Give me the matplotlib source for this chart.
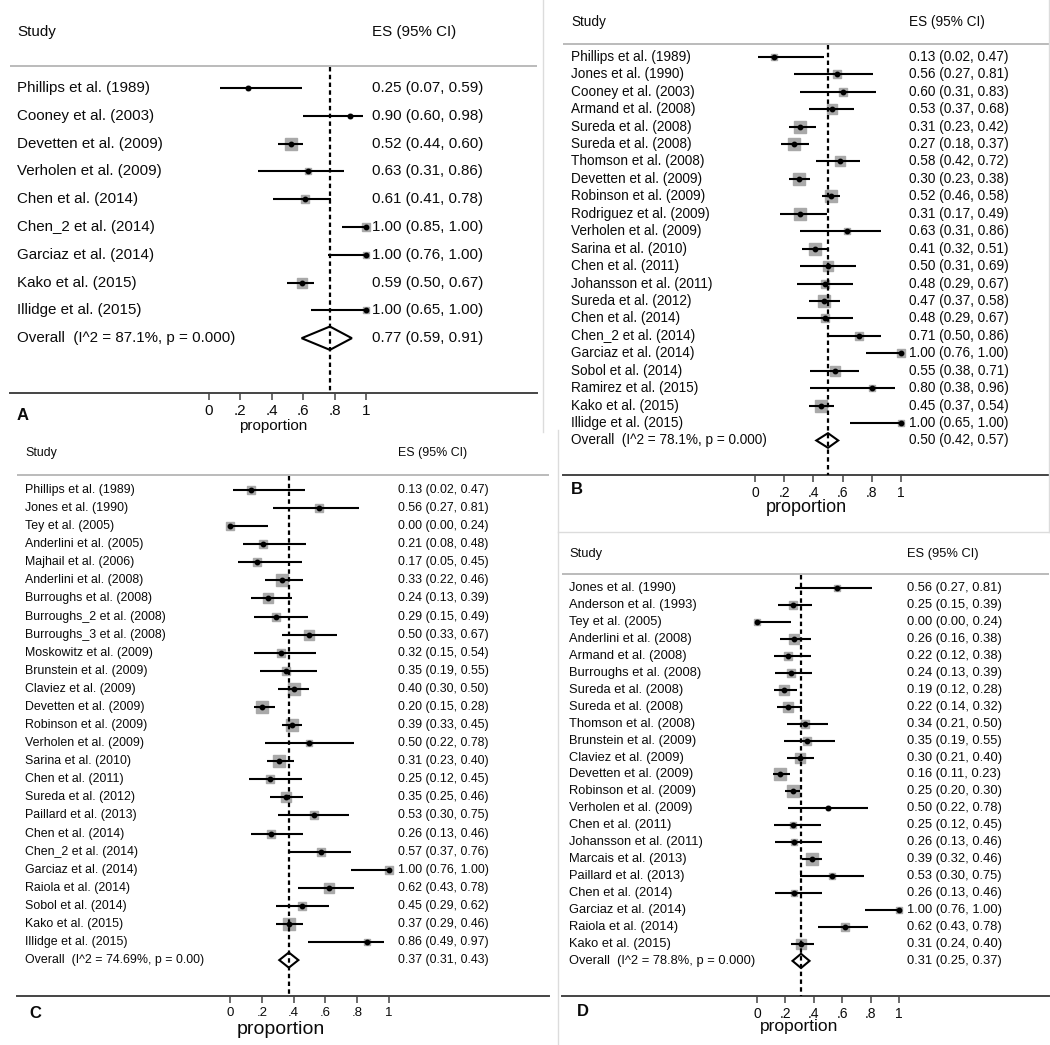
import matplotlib
matplotlib.use("Agg")
import matplotlib.pyplot as plt
from matplotlib.lines import Line2D
from matplotlib.patches import Polygon

plt.rcParams['font.family'] = ['Liberation Sans', 'DejaVu Sans']

# ---------------- DATA ----------------
studies_A = ["Phillips et al. (1989)", "Cooney et al. (2003)", "Devetten et al. (2009)",
             "Verholen et al. (2009)", "Chen et al. (2014)", "Chen_2 et al. (2014)",
             "Garciaz et al. (2014)", "Kako et al. (2015)", "Illidge et al. (2015)"]
es_A = [0.25, 0.90, 0.52, 0.63, 0.61, 1.00, 1.00, 0.59, 1.00]
lo_A = [0.07, 0.60, 0.44, 0.31, 0.41, 0.85, 0.76, 0.50, 0.65]
hi_A = [0.59, 0.98, 0.60, 0.86, 0.78, 1.00, 1.00, 0.67, 1.00]
wt_A = [3, 3, 9, 4, 7, 6, 4, 8, 4]
overall_A = [0.77, 0.59, 0.91]
overall_label_A = "Overall  (I^2 = 87.1%, p = 0.000)"

studies_B = ["Phillips et al. (1989)", "Jones et al. (1990)", "Cooney et al. (2003)",
             "Armand et al. (2008)", "Sureda et al. (2008)", "Sureda et al. (2008)",
             "Thomson et al. (2008)", "Devetten et al. (2009)", "Robinson et al. (2009)",
             "Rodriguez et al. (2009)", "Verholen et al. (2009)", "Sarina et al. (2010)",
             "Chen et al. (2011)", "Johansson et al. (2011)", "Sureda et al. (2012)",
             "Chen et al. (2014)", "Chen_2 et al. (2014)", "Garciaz et al. (2014)",
             "Sobol et al. (2014)", "Ramirez et al. (2015)", "Kako et al. (2015)",
             "Illidge et al. (2015)"]
es_B = [0.13, 0.56, 0.60, 0.53, 0.31, 0.27, 0.58, 0.30, 0.52, 0.31, 0.63, 0.41,
        0.50, 0.48, 0.47, 0.48, 0.71, 1.00, 0.55, 0.80, 0.45, 1.00]
lo_B = [0.02, 0.27, 0.31, 0.37, 0.23, 0.18, 0.42, 0.23, 0.46, 0.17, 0.31, 0.32,
        0.31, 0.29, 0.37, 0.29, 0.50, 0.76, 0.38, 0.38, 0.37, 0.65]
hi_B = [0.47, 0.81, 0.83, 0.68, 0.42, 0.37, 0.72, 0.38, 0.58, 0.49, 0.86, 0.51,
        0.69, 0.67, 0.58, 0.67, 0.86, 1.00, 0.71, 0.96, 0.54, 1.00]
wt_B = [4, 7, 7, 8, 9, 9, 8, 9, 10, 9, 4, 9, 8, 7, 9, 7, 6, 6, 8, 4, 9, 4]
overall_B = [0.50, 0.42, 0.57]
overall_label_B = "Overall  (I^2 = 78.1%, p = 0.000)"

studies_C = ["Phillips et al. (1989)", "Jones et al. (1990)", "Tey et al. (2005)",
             "Anderlini et al. (2005)", "Majhail et al. (2006)", "Anderlini et al. (2008)",
             "Burroughs et al. (2008)", "Burroughs_2 et al. (2008)", "Burroughs_3 et al. (2008)",
             "Moskowitz et al. (2009)", "Brunstein et al. (2009)", "Claviez et al. (2009)",
             "Devetten et al. (2009)", "Robinson et al. (2009)", "Verholen et al. (2009)",
             "Sarina et al. (2010)", "Chen et al. (2011)", "Sureda et al. (2012)",
             "Paillard et al. (2013)", "Chen et al. (2014)", "Chen_2 et al. (2014)",
             "Garciaz et al. (2014)", "Raiola et al. (2014)", "Sobol et al. (2014)",
             "Kako et al. (2015)", "Illidge et al. (2015)"]
es_C = [0.13, 0.56, 0.00, 0.21, 0.17, 0.33, 0.24, 0.29, 0.50, 0.32, 0.35, 0.40, 0.20,
        0.39, 0.50, 0.31, 0.25, 0.35, 0.53, 0.26, 0.57, 1.00, 0.62, 0.45, 0.37, 0.86]
lo_C = [0.02, 0.27, 0.00, 0.08, 0.05, 0.22, 0.13, 0.15, 0.33, 0.15, 0.19, 0.30, 0.15,
        0.33, 0.22, 0.23, 0.12, 0.25, 0.30, 0.13, 0.37, 0.76, 0.43, 0.29, 0.29, 0.49]
hi_C = [0.47, 0.81, 0.24, 0.48, 0.45, 0.46, 0.39, 0.49, 0.67, 0.54, 0.55, 0.50, 0.28,
        0.45, 0.78, 0.40, 0.45, 0.46, 0.75, 0.46, 0.76, 1.00, 0.78, 0.62, 0.46, 0.97]
wt_C = [6, 6, 7, 7, 6, 9, 8, 7, 8, 7, 7, 9, 9, 9, 5, 9, 7, 8, 6, 7, 7, 6, 8, 7, 9, 4]
overall_C = [0.37, 0.31, 0.43]
overall_label_C = "Overall  (I^2 = 74.69%, p = 0.00)"

studies_D = ["Jones et al. (1990)", "Anderson et al. (1993)", "Tey et al. (2005)",
             "Anderlini et al. (2008)", "Armand et al. (2008)", "Burroughs et al. (2008)",
             "Sureda et al. (2008)", "Sureda et al. (2008)", "Thomson et al. (2008)",
             "Brunstein et al. (2009)", "Claviez et al. (2009)", "Devetten et al. (2009)",
             "Robinson et al. (2009)", "Verholen et al. (2009)", "Chen et al. (2011)",
             "Johansson et al. (2011)", "Marcais et al. (2013)", "Paillard et al. (2013)",
             "Chen et al. (2014)", "Garciaz et al. (2014)", "Raiola et al. (2014)",
             "Kako et al. (2015)"]
es_D = [0.56, 0.25, 0.00, 0.26, 0.22, 0.24, 0.19, 0.22, 0.34, 0.35, 0.30, 0.16, 0.25,
        0.50, 0.25, 0.26, 0.39, 0.53, 0.26, 1.00, 0.62, 0.31]
lo_D = [0.27, 0.15, 0.00, 0.16, 0.12, 0.13, 0.12, 0.14, 0.21, 0.19, 0.21, 0.11, 0.20,
        0.22, 0.12, 0.13, 0.32, 0.30, 0.13, 0.76, 0.43, 0.24]
hi_D = [0.81, 0.39, 0.24, 0.38, 0.38, 0.39, 0.28, 0.32, 0.50, 0.55, 0.40, 0.23, 0.30,
        0.78, 0.45, 0.46, 0.46, 0.75, 0.46, 1.00, 0.78, 0.40]
wt_D = [4, 6, 4, 8, 6, 7, 8, 8, 6, 6, 8, 9, 9, 3, 5, 5, 9, 5, 5, 4, 6, 8]
overall_D = [0.31, 0.25, 0.37]
overall_label_D = "Overall  (I^2 = 78.8%, p = 0.000)"

tick_vals = [0, 0.2, 0.4, 0.6, 0.8, 1]
tick_labels = ["0", ".2", ".4", ".6", ".8", "1"]

# ---------------- LAYOUT ----------------
W, H = 1050, 1045
fig = plt.figure(figsize=(W / 100, H / 100), dpi=100)

GREY_BOX = '#a9a9a9'
TXT = '#0a0a0a'


def panel(g, names, es, lo, hi, wt, ov, ov_label):
    top_y = g['study_y'] - 16
    ax = fig.add_axes([g['L'] / W, 1 - g['axis_y'] / H,
                       (g['R'] - g['L']) / W, (g['axis_y'] - top_y) / H])
    sc = g['x1'] - g['x0']

    def px(x):
        return (x - g['x0']) / sc

    def r(y):
        return (y - g['y_first']) / g['step']

    ax.set_xlim(px(g['L']), px(g['R']))
    ax.set_ylim(r(g['axis_y']), r(top_y))
    ax.patch.set_alpha(0)
    for s in ['top', 'left', 'right']:
        ax.spines[s].set_visible(False)
    ax.spines['bottom'].set_color('#444444')
    ax.spines['bottom'].set_linewidth(1.4)
    ax.set_yticks([])
    ax.set_xticks(tick_vals)
    ax.set_xticklabels(tick_labels, fontsize=g['tick_fs'], color=TXT)
    ax.tick_params(axis='x', direction='out', length=5, width=1.1,
                   color='#444444', pad=3)

    fs = g['fs']
    # header
    ax.text(px(g['name_x']), r(g['study_y']), "Study", fontsize=fs, color=TXT,
            ha='left', va='center')
    ax.text(px(g['es_x']), r(g['study_y']), "ES (95% CI)", fontsize=fs, color=TXT,
            ha='left', va='center')
    ax.axhline(r(g['hline_y']), color='#b5b5b5', lw=1.3)

    n = len(names)
    for i in range(n):
        ax.plot([es[i]], [i], marker='s', ms=wt[i] * 0.92, color=GREY_BOX,
                mec=GREY_BOX, zorder=2, ls='none')
        ax.plot([lo[i], hi[i]], [i, i], color='black', lw=1.5, zorder=3,
                solid_capstyle='butt')
        ax.plot([es[i]], [i], marker='o', ms=3.2, color='black', zorder=4, ls='none')
        ax.text(px(g['name_x']), i, names[i], fontsize=fs, color=TXT,
                ha='left', va='center')
        ax.text(px(g['es_x']), i, f"{es[i]:.2f} ({lo[i]:.2f}, {hi[i]:.2f})",
                fontsize=fs, color=TXT, ha='left', va='center')

    # overall
    yo = n
    dh = 0.42
    dia = Polygon([[ov[1], yo], [ov[0], yo - dh], [ov[2], yo], [ov[0], yo + dh]],
                  closed=True, facecolor='none', edgecolor='black', lw=1.5, zorder=5)
    ax.add_patch(dia)
    ax.text(px(g['name_x']), yo, ov_label, fontsize=fs, color=TXT,
            ha='left', va='center')
    ax.text(px(g['es_x']), yo, f"{ov[0]:.2f} ({ov[1]:.2f}, {ov[2]:.2f})",
            fontsize=fs, color=TXT, ha='left', va='center')

    # dashed overall line
    ax.plot([ov[0], ov[0]], [r(g['hline_y']) + 0.05, r(g['axis_y'])], color='black',
            lw=1.6, ls=(0, (2.0, 1.5)), zorder=4)

    # axis title and panel label
    ax.text(px(g['prop_x']), r(g['prop_y']), "proportion", fontsize=g['prop_fs'],
            color=TXT, ha='center', va='center', clip_on=False)
    ax.text(px(g['lab_x']), r(g['lab_y']), g['label'], fontsize=g['lab_fs'],
            fontweight='bold', color=TXT, ha='left', va='center', clip_on=False)
    return ax


geom_A = dict(L=10, R=537, x0=209, x1=366, y_first=88, step=27.8, study_y=32,
              hline_y=66, axis_y=393, name_x=17, es_x=372, prop_x=273, prop_y=426,
              lab_x=17, lab_y=416, label='A', fs=10.9, tick_fs=11, prop_fs=11, lab_fs=12)
geom_B = dict(L=563, R=1049, x0=755, x1=901, y_first=56.8, step=17.44, study_y=22,
              hline_y=43.7, axis_y=475, name_x=571, es_x=909, prop_x=806, prop_y=508,
              lab_x=571, lab_y=490, label='B', fs=9.8, tick_fs=10, prop_fs=13, lab_fs=12)
geom_C = dict(L=17, R=549, x0=230, x1=389, y_first=490, step=18.08, study_y=453,
              hline_y=475, axis_y=996, name_x=25, es_x=398, prop_x=281, prop_y=1030,
              lab_x=29, lab_y=1014, label='C', fs=8.9, tick_fs=9.5, prop_fs=14, lab_fs=12)
geom_D = dict(L=562, R=1049, x0=757, x1=899, y_first=588, step=16.95, study_y=554,
              hline_y=574, axis_y=996, name_x=569, es_x=907, prop_x=799, prop_y=1027,
              lab_x=577, lab_y=1012, label='D', fs=9.3, tick_fs=10, prop_fs=12.5, lab_fs=12)

panel(geom_A, studies_A, es_A, lo_A, hi_A, wt_A, overall_A, overall_label_A)
panel(geom_B, studies_B, es_B, lo_B, hi_B, wt_B, overall_B, overall_label_B)
panel(geom_C, studies_C, es_C, lo_C, hi_C, wt_C, overall_C, overall_label_C)
panel(geom_D, studies_D, es_D, lo_D, hi_D, wt_D, overall_D, overall_label_D)

# faint panel borders
BORDER = '#dcdcdc'


def fline(xs, ys):
    fig.add_artist(Line2D([x / W for x in xs], [1 - y / H for y in ys],
                          color=BORDER, lw=1.0))


fline([543, 543], [0, 432])
fline([558, 558], [430, 1045])
fline([558, 1049], [532, 532])
fline([1049, 1049], [0, 532])

fig.savefig("out.png", dpi=100, facecolor='white')
